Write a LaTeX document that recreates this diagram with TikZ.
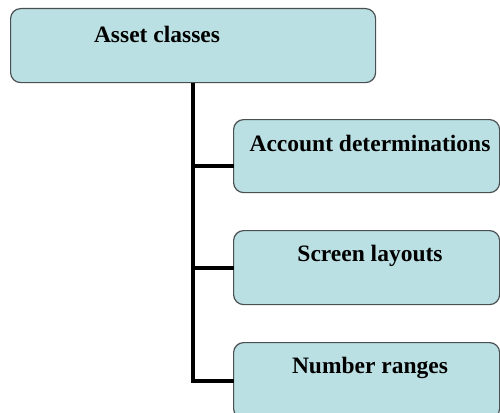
\documentclass[tikz,border=0pt]{standalone}
\usepackage{fontspec}
\setmainfont{Liberation Serif}
\definecolor{boxfill}{HTML}{BBE0E3}
\definecolor{boxline}{HTML}{4A4F52}
\begin{document}
\begin{tikzpicture}[x=1pt,y=1pt,
  box/.style={draw=boxline, line width=1.2pt, fill=boxfill, rounded corners=10pt, rectangle, anchor=north west, inner sep=0pt},
  lbl/.style={font=\bfseries\fontsize{23.5}{27}\selectfont, inner sep=0pt, anchor=center},
  conn/.style={line width=4pt, black}]
\useasboundingbox (0,0) rectangle (500,-412);
\node[box, minimum width=365pt, minimum height=74pt] (top) at (10,-8) {};
\node[box, minimum width=266pt, minimum height=73pt] (ad) at (233,-119) {};
\node[box, minimum width=266pt, minimum height=74pt] (sl) at (233,-230) {};
\node[box, minimum width=266pt, minimum height=76pt] (nr) at (233,-342) {};
\node[lbl] (tl) at (157,-34) {Asset classes};
\node[lbl] (al) at (370,-143) {Account determinations};
\node[lbl] (sll) at (370,-256) {Screen layouts};
\node[lbl] (nl) at (370,-368) {Number ranges};
\coordinate (j) at (193,0);
\draw[conn] (j |- top.south) |- ([xshift=0.6pt]nr.west);
\draw[conn] (j |- sl.west) -- ([xshift=0.6pt]sl.west);
\draw[conn] ([yshift=-10pt]j |- ad.west) -- ([yshift=-10pt,xshift=0.6pt]ad.west);
\end{tikzpicture}
\end{document}
